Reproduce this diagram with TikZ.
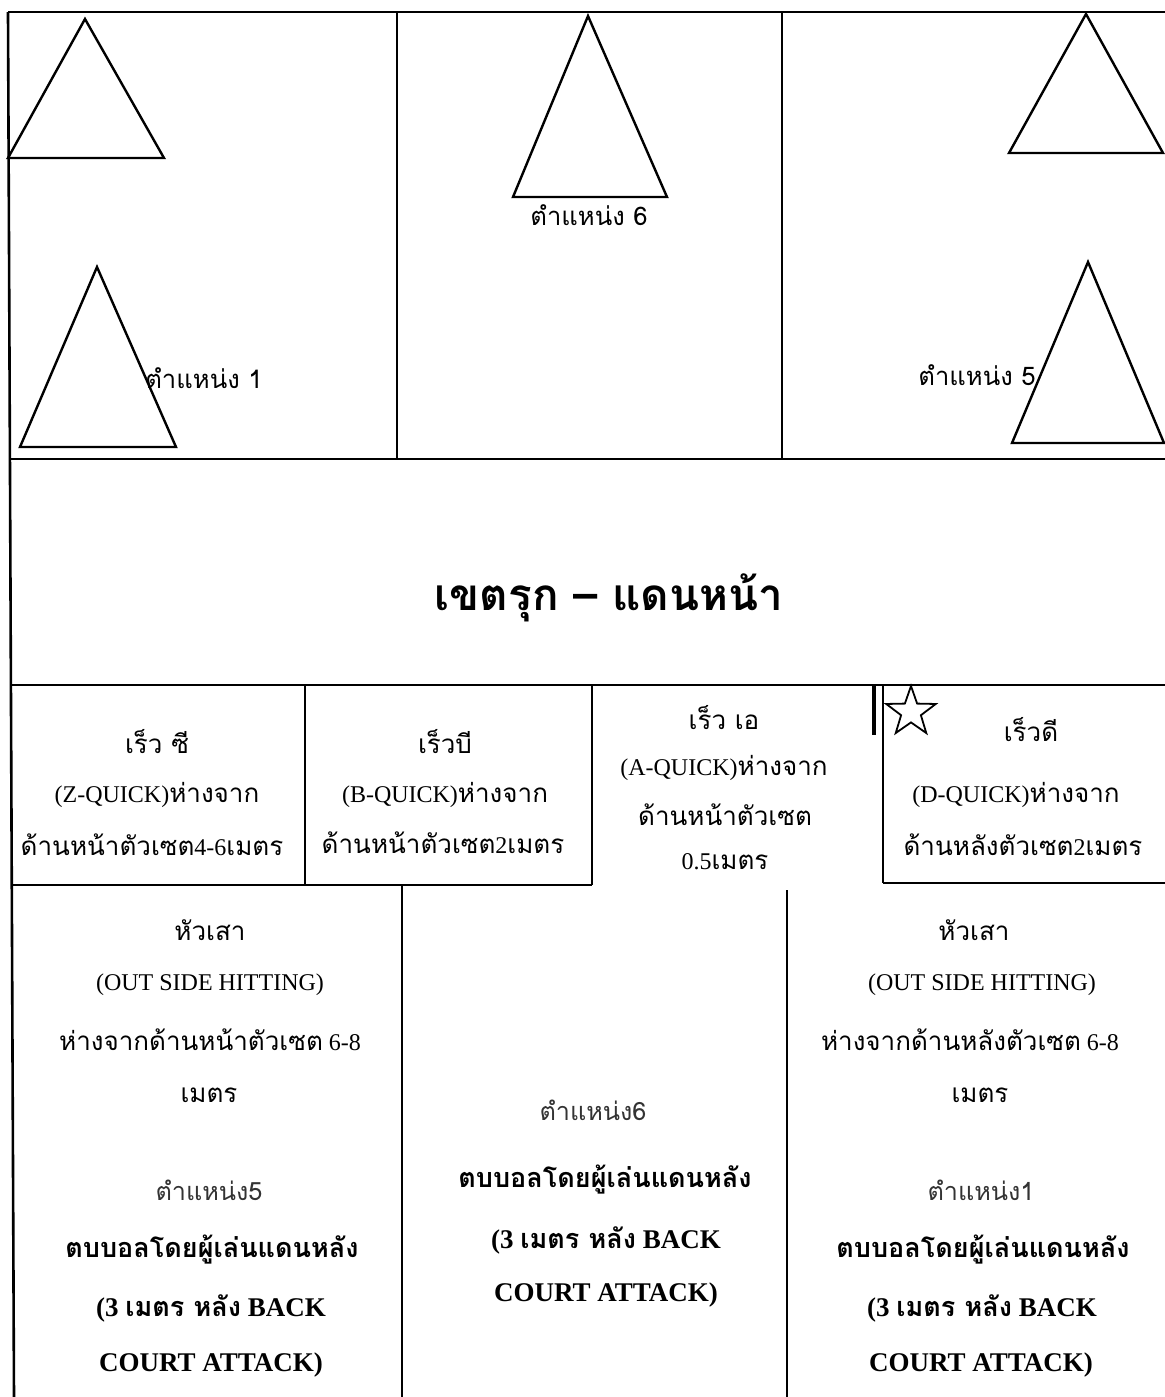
\documentclass[tikz,border=0pt]{standalone}
\usepackage{fontspec}
\usetikzlibrary{shapes.geometric}
\setmainfont{Liberation Serif}
\newfontfamily\thai[Script=Thai]{Loma}
\newcommand{\T}[1]{{\thai\fontsize{13}{15}\selectfont #1}}
\newcommand{\TB}[1]{{\thai\bfseries #1}}
\tikzset{
  frame/.style={line width=1.3pt, black},
  tri/.style={line width=1.2pt, black},
  poslbl/.style={inner sep=0pt, font=\thai\fontsize{12.8}{14}\selectfont},
  sertxt/.style={inner sep=0pt, font=\fontsize{12}{15}\selectfont},
  boldtxt/.style={inner sep=0pt, font=\bfseries\fontsize{13.5}{16}\selectfont},
  graylbl/.style={inner sep=0pt, text=black!80, font=\thai\fontsize{12.6}{14}\selectfont},
  titletxt/.style={inner sep=0pt, font=\thai\bfseries\fontsize{22}{26}\selectfont},
  starmark/.style={star, star points=5, star point ratio=2.5, draw, line width=0.9pt, minimum size=26pt, inner sep=0pt},
}
\begin{document}
\begin{tikzpicture}[x=0.5pt,y=-0.5pt]
\useasboundingbox (0,0) rectangle (1165,1397);
% outer frame and top section
\draw[frame] (8,12) -- (1165,12);
\draw[frame] (8,12) -- (14,1397);
\draw[frame] (397,12) -- (397,459);
\draw[frame] (782,12) -- (782,459);
\draw[frame] (10,459) -- (1165,459);
% triangles
\draw[tri] (85,19) -- (164,158) -- (8,158) -- cycle;
\draw[tri] (97,267) -- (176,447) -- (20,447) -- cycle;
\draw[tri] (588,16) -- (667,197) -- (513,197) -- cycle;
\draw[tri] (1086,14) -- (1163,153) -- (1009,153) -- cycle;
\draw[tri] (1088,262) -- (1164,443) -- (1012,443) -- cycle;
% row 2 (quick sets)
\draw[frame] (12,685) -- (1165,685);
\draw[frame] (305,685) -- (305,885);
\draw[frame] (592,685) -- (592,885);
\draw[frame] (13,885) -- (592,885);
\draw[line width=1.8pt] (874,686) -- (874,735);
\draw[frame] (883,685) -- (883,883);
\draw[frame] (883,883) -- (1165,883);
% bottom section
\draw[frame] (402,885) -- (402,1397);
\draw[frame] (787,890) -- (787,1397);
% star
\node[starmark] (star) at (911,712) {};
% top labels
\node[poslbl] (p1) at (204,378) {ตำแหน่ง 1};
\node[poslbl] (p6) at (589,215) {ตำแหน่ง 6};
\node[poslbl] (p5) at (977,375) {ตำแหน่ง 5};
\node[titletxt] (title) at (609,598) {เขตรุก – แดนหน้า};
% quick boxes
\node[sertxt] (z1) at (157,742) {\T{เร็ว ซี}};
\node[sertxt] (z2) at (157,795) {(Z-QUICK)\T{ห่างจาก}};
\node[sertxt] (z3) at (152,845) {\T{ด้านหน้าตัวเซต}4-6\T{เมตร}};
\node[sertxt] (b1) at (445,742) {\T{เร็วบี}};
\node[sertxt] (b2) at (445,795) {(B-QUICK)\T{ห่างจาก}};
\node[sertxt] (b3) at (443,843) {\T{ด้านหน้าตัวเซต}2\T{เมตร}};
\node[sertxt] (a1) at (724,718) {\T{เร็ว เอ}};
\node[sertxt] (a2) at (724,768) {(A-QUICK)\T{ห่างจาก}};
\node[sertxt] (a3) at (725,815) {\T{ด้านหน้าตัวเซต}};
\node[sertxt] (a4) at (725,862) {0.5\T{เมตร}};
\node[sertxt] (d1) at (1031,730) {\T{เร็วดี}};
\node[sertxt] (d2) at (1016,795) {(D-QUICK)\T{ห่างจาก}};
\node[sertxt] (d3) at (1023,845) {\T{ด้านหลังตัวเซต}2\T{เมตร}};
% bottom left
\node[sertxt] (l1) at (210,930) {\T{หัวเสา}};
\node[sertxt] (l2) at (210,985) {(OUT SIDE HITTING)};
\node[sertxt] (l3) at (210,1040) {\T{ห่างจากด้านหน้าตัวเซต} 6-8};
\node[sertxt] (l4) at (209,1095) {\T{เมตร}};
\node[graylbl] (l5) at (209,1190) {ตำแหน่ง5};
\node[boldtxt] (l6) at (212,1250) {\TB{ตบบอลโดยผู้เล่นแดนหลัง}};
\node[boldtxt] (l7) at (211,1308) {(3 \TB{เมตร หลัง} BACK};
\node[boldtxt] (l8) at (211,1365) {COURT ATTACK)};
% bottom middle
\node[graylbl] (m1) at (593,1110) {ตำแหน่ง6};
\node[boldtxt] (m2) at (605,1180) {\TB{ตบบอลโดยผู้เล่นแดนหลัง}};
\node[boldtxt] (m3) at (606,1240) {(3 \TB{เมตร หลัง} BACK};
\node[boldtxt] (m4) at (606,1295) {COURT ATTACK)};
% bottom right
\node[sertxt] (r1) at (974,930) {\T{หัวเสา}};
\node[sertxt] (r2) at (982,985) {(OUT SIDE HITTING)};
\node[sertxt] (r3) at (970,1040) {\T{ห่างจากด้านหลังตัวเซต} 6-8};
\node[sertxt] (r4) at (980,1095) {\T{เมตร}};
\node[graylbl] (r5) at (981,1190) {ตำแหน่ง1};
\node[boldtxt] (r6) at (983,1250) {\TB{ตบบอลโดยผู้เล่นแดนหลัง}};
\node[boldtxt] (r7) at (982,1308) {(3 \TB{เมตร หลัง} BACK};
\node[boldtxt] (r8) at (981,1365) {COURT ATTACK)};
\end{tikzpicture}
\end{document}
